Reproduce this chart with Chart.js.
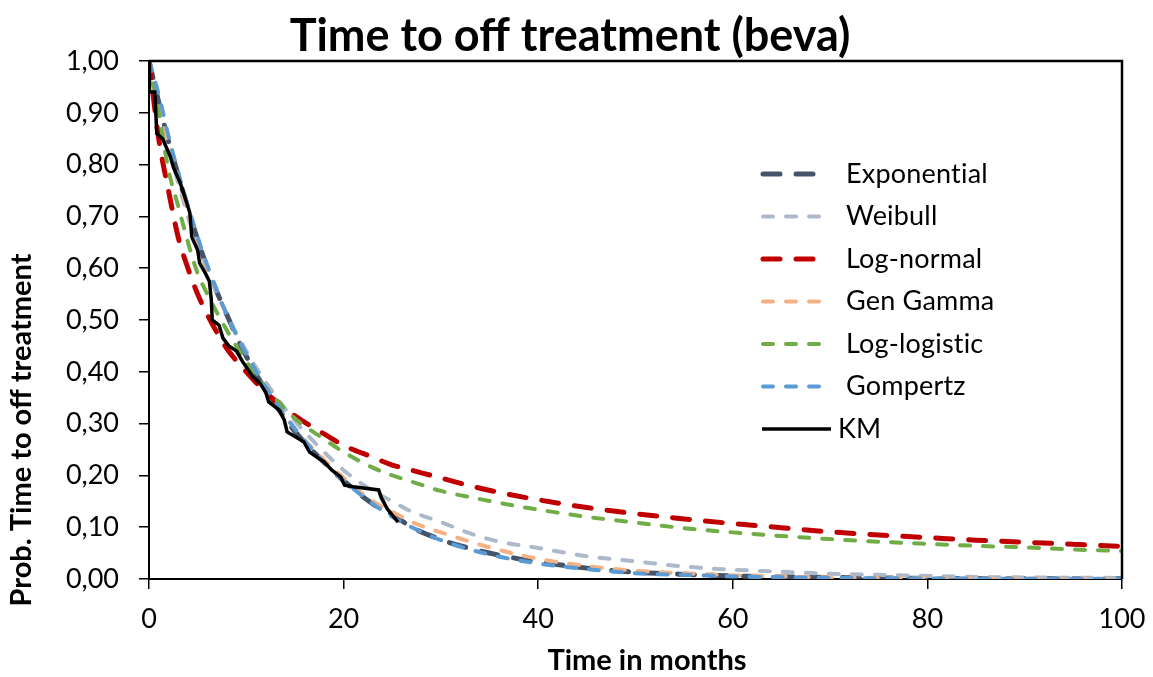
<!DOCTYPE html>
<html>
<head>
<meta charset="utf-8">
<title>Time to off treatment (beva)</title>
<script src="https://cdn.jsdelivr.net/npm/chart.js@4.4.1/dist/chart.umd.min.js"></script>
<style>
  html, body { margin: 0; padding: 0; background: #fff; }
  #wrap { width: 1153px; height: 677px; position: relative; }
</style>
</head>
<body>
<div id="wrap"><canvas id="kmChart"></canvas></div>
<script>
// time grid (months) shared by the fitted curves
const times = [0, 1, 2, 3, 4, 5, 6, 8, 10, 12, 15, 18, 20, 23, 25, 27, 30, 33, 36, 40, 45, 50, 55, 60, 65, 70, 75, 80, 85, 90, 95, 100];

const exponential = [1.00, 0.92, 0.845, 0.78, 0.715, 0.655, 0.60, 0.51, 0.43, 0.365, 0.285, 0.225, 0.19, 0.145, 0.125, 0.10, 0.076, 0.059, 0.046, 0.033, 0.021, 0.013, 0.009, 0.006, 0.004, 0.003, 0.002, 0.0015, 0.001, 0.0008, 0.0006, 0.0004];
const weibull = [1.00, 0.90, 0.83, 0.765, 0.70, 0.645, 0.595, 0.51, 0.44, 0.38, 0.305, 0.245, 0.21, 0.17, 0.15, 0.13, 0.11, 0.088, 0.072, 0.06, 0.044, 0.034, 0.024, 0.018, 0.014, 0.010, 0.008, 0.006, 0.004, 0.003, 0.0025, 0.002];
const logNormal = [1.00, 0.85, 0.75, 0.66, 0.60, 0.55, 0.51, 0.445, 0.40, 0.36, 0.315, 0.28, 0.258, 0.235, 0.22, 0.21, 0.195, 0.18, 0.167, 0.153, 0.138, 0.126, 0.116, 0.107, 0.099, 0.091, 0.085, 0.08, 0.075, 0.071, 0.067, 0.063];
const genGamma = [1.00, 0.91, 0.84, 0.775, 0.71, 0.65, 0.60, 0.51, 0.435, 0.37, 0.29, 0.23, 0.195, 0.15, 0.13, 0.11, 0.09, 0.072, 0.056, 0.039, 0.025, 0.016, 0.011, 0.007, 0.005, 0.003, 0.002, 0.0015, 0.001, 0.0008, 0.0006, 0.0004];
const logLogistic = [1.00, 0.90, 0.79, 0.72, 0.65, 0.59, 0.55, 0.48, 0.42, 0.37, 0.31, 0.27, 0.245, 0.215, 0.20, 0.188, 0.17, 0.158, 0.147, 0.134, 0.12, 0.109, 0.098, 0.09, 0.083, 0.077, 0.072, 0.068, 0.064, 0.061, 0.057, 0.054];
const gompertz = [1.00, 0.935, 0.855, 0.785, 0.72, 0.66, 0.605, 0.51, 0.435, 0.37, 0.29, 0.225, 0.19, 0.145, 0.12, 0.10, 0.075, 0.057, 0.043, 0.03, 0.019, 0.011, 0.008, 0.005, 0.0035, 0.002, 0.0015, 0.001, 0.0007, 0.0005, 0.0003, 0.0002];

// Kaplan-Meier curve
const kmTimes = [0, 0.05, 0.6, 0.8, 1.4, 2.2, 2.5, 3.2, 3.9, 4.2, 4.4, 5.0, 5.2, 5.8, 6.2, 6.4, 6.5, 7.2, 7.6, 8.2, 9.0, 9.6, 10.7, 11.4, 12.0, 12.3, 13.4, 13.9, 14.2, 15.0, 15.9, 16.5, 17.2, 18.0, 18.8, 19.7, 20.1, 21.0, 23.6, 23.9, 24.5, 25.6];
const kmVals = [1.0, 0.94, 0.94, 0.86, 0.85, 0.815, 0.795, 0.765, 0.725, 0.707, 0.66, 0.635, 0.61, 0.59, 0.575, 0.54, 0.50, 0.49, 0.465, 0.45, 0.44, 0.42, 0.39, 0.378, 0.36, 0.342, 0.326, 0.307, 0.284, 0.275, 0.265, 0.245, 0.236, 0.226, 0.21, 0.197, 0.181, 0.178, 0.172, 0.156, 0.135, 0.11];

const xTicks = [0, 20, 40, 60, 80, 100];
const yTicks = [0, 0.1, 0.2, 0.3, 0.4, 0.5, 0.6, 0.7, 0.8, 0.9, 1.0];

const FONT = 'Lato, "Open Sans", sans-serif';

function pts(xs, ys) {
  return xs.map((t, i) => ({ x: t, y: ys[i] }));
}

function fitSet(label, vals, color, width, dash, order) {
  return {
    label,
    data: pts(times, vals),
    borderColor: color,
    borderWidth: width,
    borderDash: dash,
    borderCapStyle: 'round',
    pointRadius: 0,
    fill: false,
    cubicInterpolationMode: 'monotone',
    order
  };
}

const datasets = [
  fitSet('Exponential', exponential, '#44546A', 5, [17, 16], 6),
  fitSet('Weibull', weibull, '#ADB9CA', 4, [10, 13], 5),
  fitSet('Log-normal', logNormal, '#C00000', 5, [17, 16], 4),
  fitSet('Gen Gamma', genGamma, '#F4B183', 4, [10, 13], 3),
  fitSet('Log-logistic', logLogistic, '#70AD47', 4, [10, 13], 2),
  fitSet('Gompertz', gompertz, '#5B9BD5', 4, [10, 13], 1),
  {
    label: 'KM',
    data: pts(kmTimes, kmVals),
    borderColor: '#000000',
    borderWidth: 3.5,
    pointRadius: 0,
    fill: false,
    tension: 0,
    order: 0
  }
];

// frame, titles and in-plot legend
const decor = {
  id: 'decor',
  afterDraw(chart) {
    const { ctx, chartArea: a } = chart;
    ctx.save();
    ctx.strokeStyle = '#000';
    ctx.lineWidth = 2.5;
    ctx.beginPath();
    ctx.moveTo(a.left, a.top);
    ctx.lineTo(a.right, a.top);
    ctx.lineTo(a.right, a.bottom);
    ctx.stroke();

    ctx.fillStyle = '#000';
    ctx.textAlign = 'center';
    ctx.textBaseline = 'middle';
    ctx.font = 'bold 45px ' + FONT;
    ctx.fillText('Time to off treatment (beva)', 570, 36);

    ctx.font = 'bold 29px ' + FONT;
    ctx.fillText('Time in months', 647, 661);

    ctx.translate(22, 430);
    ctx.rotate(-Math.PI / 2);
    ctx.fillText('Prob. Time to off treatment', 0, 0);
    ctx.restore();

    // legend
    ctx.save();
    ctx.font = '27px ' + FONT;
    ctx.letterSpacing = '0.2px'; // keeps "ti" from turning into a ligature
    ctx.textAlign = 'left';
    ctx.textBaseline = 'middle';
    chart.data.datasets.forEach((ds, i) => {
      const y = 174 + i * 42.5;
      ctx.strokeStyle = ds.borderColor;
      ctx.lineWidth = ds.borderWidth;
      ctx.lineCap = ds.label === 'KM' ? 'butt' : 'round';
      ctx.setLineDash(ds.borderDash || []);
      ctx.beginPath();
      ctx.moveTo(ds.label === 'KM' ? 762 : 763, y);
      ctx.lineTo(ds.label === 'KM' ? 831 : 826, y);
      ctx.stroke();
      ctx.setLineDash([]);
      ctx.fillStyle = '#000';
      ctx.fillText(ds.label, ds.label === 'KM' ? 838 : 846, y);
    });
    ctx.restore();
  }
};

new Chart(document.getElementById('kmChart'), {
  type: 'line',
  data: { datasets },
  plugins: [decor],
  options: {
    responsive: true,
    maintainAspectRatio: false,
    animation: false,
    layout: { padding: { top: 61, right: 31, left: 0, bottom: 0 } },
    plugins: {
      legend: { display: false },
      tooltip: { enabled: false },
      title: { display: false }
    },
    scales: {
      x: {
        type: 'linear',
        min: 0,
        max: 100,
        afterBuildTicks(s) { s.ticks = xTicks.map(v => ({ value: v })); },
        afterFit(s) { s.height = 98; s.paddingRight = 0; s.paddingLeft = 0; },
        grid: { drawOnChartArea: false, drawTicks: true, tickLength: 10, color: '#000', lineWidth: 1.5 },
        border: { display: true, color: '#000', width: 2 },
        ticks: { color: '#000', padding: 14, maxRotation: 0, font: { family: FONT, size: 27 } }
      },
      y: {
        type: 'linear',
        min: 0,
        max: 1,
        afterBuildTicks(s) { s.ticks = yTicks.map(v => ({ value: v })); },
        afterFit(s) { s.width = 149; s.paddingTop = 0; s.paddingBottom = 0; },
        grid: { drawOnChartArea: false, drawTicks: true, tickLength: 10, color: '#000', lineWidth: 1.5 },
        border: { display: true, color: '#000', width: 2 },
        ticks: {
          color: '#000',
          padding: 20,
          font: { family: FONT, size: 27 },
          callback: v => v.toFixed(2).replace('.', ',')
        }
      }
    }
  }
});
</script>
</body>
</html>
